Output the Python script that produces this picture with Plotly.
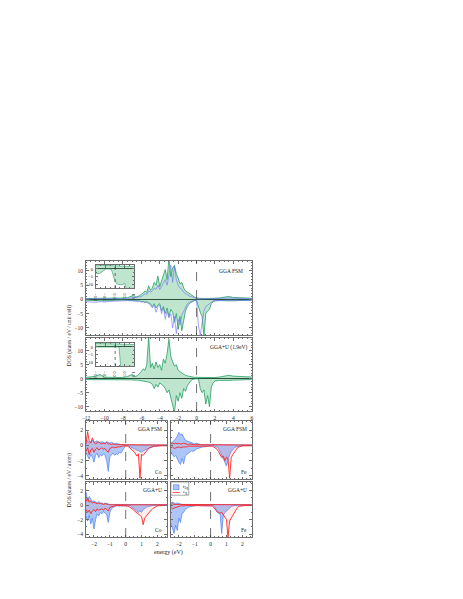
"""Spin-resolved DOS of the Co/Fe compound: total DOS panels plus t2g / eg projections."""
import plotly.graph_objects as go

_FONT = "Liberation Serif"
_GREEN = "#23a063"
_GREEN_FILL = "rgba(95,190,135,0.40)"
_LAVENDER = "rgba(115,115,255,0.80)"
_BLUE = "#4d7ff0"
_BLUE_FILL = "rgba(105,150,240,0.55)"
_RED = "#ff2424"
_RED_FILL = "rgba(255,110,110,0.12)"
_FRAME = "#6e6e6e"

# ---- total DOS, energy grid (eV) ----
MAIN_E = [-12.0, -11.5, -11.0, -10.5, -10.0, -9.5, -9.0, -8.5, -8.0, -7.5, -7.0,
          -6.8, -6.6, -6.4, -6.2, -6.0, -5.8, -5.6, -5.4, -5.2, -5.0,
          -4.8, -4.6, -4.4, -4.2, -4.0, -3.8, -3.6, -3.4, -3.2, -3.0,
          -2.8, -2.6, -2.4, -2.2, -2.0, -1.8, -1.6, -1.4, -1.2, -1.0,
          -0.8, -0.6, -0.4, -0.2, 0.0, 0.2, 0.4, 0.6, 0.8, 1.0,
          1.2, 1.4, 1.6, 1.8, 2.0,
          2.5, 3.0, 3.5, 4.0, 4.5, 5.0, 5.5, 6.0]

# GGA FSM
FSM_TOT_UP = [0.3, 0.3, 0.4, 0.3, 0.4, 0.3, 0.3, 0.4, 0.5, 0.6, 1.2,
              1.5, 0.8, 1.0, 1.3, 1.8, 2.2, 3.0, 2.5, 4.8, 3.2,
              4.0, 6.0, 5.0, 8.2, 4.5, 6.5, 9.0, 10.5, 7.0, 14.5,
              8.0, 11.0, 12.0, 9.0, 7.5, 5.5, 6.0, 4.0, 3.0, 2.5,
              2.0, 1.5, 1.2, 0.8, 0.5, 0.4, 0.3, 0.3, 0.3, 0.3,
              0.3, 0.3, 0.4, 0.3, 0.4,
              0.5, 0.8, 1.0, 0.7, 0.6, 0.5, 0.5, 0.4]
FSM_TOT_DN = [-0.3, -0.4, -0.5, -0.4, -0.5, -0.4, -0.3, -0.3, -0.2, -0.3, -0.4,
              -0.5, -0.4, -0.6, -0.5, -0.8, -0.7, -1.0, -0.8, -1.2, -1.5,
              -2.5, -1.5, -3.0, -2.0, -1.5, -4.0, -2.5, -5.0, -3.0, -6.0,
              -3.5, -4.5, -8.0, -5.0, -10.5, -6.0, -11.0, -7.5, -4.0, -2.5,
              -1.5, -1.0, -0.6, -0.4, -0.5, -3.0, -4.5, -6.0, -13.0, -5.0,
              -4.0, -3.5, -1.5, -0.8, -0.5,
              -0.4, -0.5, -0.6, -0.5, -0.4, -0.4, -0.3, -0.3]
FSM_ALT_UP = [0.2, 0.2, 0.3, 0.2, 0.2, 0.3, 0.2, 0.2, 0.3, 0.3, 0.5,
              0.6, 0.5, 0.6, 0.8, 1.0, 1.5, 2.0, 1.8, 3.0, 2.5,
              3.0, 4.0, 3.5, 5.0, 3.5, 4.5, 6.0, 7.0, 5.0, 8.0,
              12.0, 6.0, 11.5, 7.0, 5.0, 4.0, 3.5, 2.5, 2.0, 1.5,
              1.2, 1.0, 0.8, 0.5, 0.3, 0.2, 0.2, 0.2, 0.2, 0.2,
              0.2, 0.2, 0.2, 0.2, 0.2,
              0.3, 0.4, 0.5, 0.4, 0.3, 0.3, 0.3, 0.3]
FSM_ALT_DN = [-0.8, -0.9, -1.0, -0.8, -0.9, -0.7, -0.6, -0.5, -0.5, -0.4, -0.5,
              -0.6, -0.5, -0.7, -0.6, -0.9, -0.8, -1.2, -1.0, -1.5, -2.0,
              -3.0, -2.0, -4.5, -2.5, -2.0, -5.0, -3.0, -7.0, -4.0, -6.5,
              -5.0, -10.0, -6.0, -12.0, -7.0, -9.0, -5.5, -4.0, -2.5, -1.5,
              -1.0, -0.7, -0.5, -0.3, -0.3, -9.0, -12.5, -8.0, -4.0, -2.5,
              -2.0, -1.5, -0.8, -0.5, -0.4,
              -0.4, -0.5, -0.5, -0.4, -0.4, -0.3, -0.3, -0.3]

# GGA+U (1.9 eV)
U_TOT_UP = [0.5, 0.6, 0.8, 1.5, 0.6, 0.5, 0.4, 0.3, 0.4, 0.8, 1.5,
            1.0, 0.8, 1.2, 1.8, 2.5, 3.5, 3.0, 5.0, 15.0, 4.0,
            5.5, 3.5, 6.0, 4.0, 5.0, 3.0, 7.0, 5.5, 9.0, 14.0,
            8.0, 6.0, 4.5, 5.0, 3.0, 2.5, 2.0, 1.5, 1.2, 1.0,
            0.8, 0.7, 0.6, 0.5, 0.5, 0.4, 0.4, 0.3, 0.3, 0.3,
            0.3, 0.3, 0.3, 0.3, 0.4,
            0.6, 0.9, 1.2, 0.9, 0.8, 0.7, 0.6, 0.6]
U_TOT_DN = [-0.3, -0.3, -0.4, -0.3, -0.3, -0.2, -0.2, -0.2, -0.2, -0.3, -0.4,
            -0.5, -0.4, -0.5, -0.6, -0.7, -0.8, -0.9, -1.0, -1.2, -1.5,
            -2.0, -3.5, -2.0, -3.0, -1.5, -2.0, -2.5, -3.5, -5.0, -4.0,
            -7.0, -10.0, -12.0, -6.0, -8.0, -5.0, -7.0, -3.5, -4.5, -2.5,
            -1.5, -0.6, -0.2, -0.05, -0.02, -0.05, -3.5, -5.0, -4.0, -9.0,
            -6.0, -10.0, -3.0, -1.5, -0.8,
            -0.6, -0.7, -0.6, -0.5, -0.4, -0.4, -0.3, -0.3]

# ---- insets: spin-down near the Fermi level ----
INSET_E = [-1.0, -0.9, -0.8, -0.7, -0.6, -0.5, -0.4, -0.3, -0.2, -0.1, 0.0,
           0.1, 0.2, 0.3, 0.4, 0.5, 0.6, 0.7, 0.8, 0.9, 1.0]
INSET_FSM_UP = [2.4, 2.35, 2.3, 2.3, 2.2, 2.2, 2.1, 2.1, 2.0, 2.0, 1.9,
                1.9, 1.8, 1.8, 1.8, 1.7, 1.7, 1.6, 1.6, 1.5, 1.5]
INSET_FSM_DN = [-2.5, -3.0, -2.8, -2.0, -0.8, -0.2, -0.05, -0.05, -0.1, -4.0, -8.0,
                -9.5, -10.0, -10.0, -9.8, -9.0, -14.0, -14.0, -14.0, -14.0, -14.0]
INSET_U_UP = [2.2, 2.2, 2.1, 2.1, 2.1, 2.0, 2.0, 2.0, 1.9, 1.9, 1.9,
              1.8, 1.8, 1.8, 1.7, 1.7, 1.7, 1.6, 1.6, 1.6, 1.5]
INSET_U_DN = [-0.02, -0.02, -0.02, -0.02, -0.02, -0.02, -0.02, -0.02, -0.02, -0.02, -0.02,
              -0.02, -0.02, -14.0, -14.0, -14.0, -14.0, -14.0, -14.0, -14.0, -14.0]

# ---- projected DOS, energy grid (eV) ----
SUB_E = [-2.5, -2.4, -2.3, -2.2, -2.1, -2.0, -1.9, -1.8, -1.7, -1.6,
         -1.5, -1.4, -1.3, -1.2, -1.1, -1.0, -0.9, -0.8, -0.7, -0.6,
         -0.5, -0.4, -0.3, -0.2, -0.1, 0.0, 0.1, 0.2, 0.3, 0.4,
         0.5, 0.6, 0.7, 0.8, 0.9, 1.0, 1.1, 1.2, 1.3, 1.4,
         1.5, 1.6, 1.7, 1.8, 1.9, 2.0, 2.1, 2.2, 2.3, 2.4,
         2.5, 2.6]

CO_FSM_T2G_UP = [0.4, 0.6, 0.3, 0.5, 0.7, 0.4, 0.5, 0.6, 0.3, 0.4,
                 0.5, 0.4, 0.3, 0.5, 0.4, 0.3, 0.4, 0.3, 0.2, 0.3,
                 0.2, 0.2, 0.1, 0.1, 0.05, 0.05, 0.05, 0.05, 0.05, 0.1,
                 0.1, 0.1, 0.1, 0.1, 0.05, 0.05, 0.05, 0.05, 0.05, 0.05,
                 0.05, 0.05, 0.05, 0.05, 0.05, 0.05, 0.05, 0.05, 0.05, 0.05,
                 0.05, 0.05]
CO_FSM_T2G_DN = [-1.0, -1.4, -1.8, -1.2, -1.5, -2.2, -1.3, -1.0, -1.6, -1.2,
                 -1.4, -1.1, -1.3, -2.0, -3.4, -1.5, -1.2, -1.0, -1.3, -1.1,
                 -1.2, -0.9, -1.0, -0.6, -0.2, 0.0, 0.0, -0.1, -0.2, -0.3,
                 -0.4, -0.5, -0.6, -0.7, -0.8, -0.9, -0.7, -0.6, -0.5, -0.4,
                 -0.3, -0.2, -0.2, -0.1, -0.1, -0.05, 0.0, 0.0, 0.0, 0.0,
                 0.0, 0.0]
CO_FSM_EG_UP = [0.2, 1.8, 0.6, 0.3, 1.0, 0.4, 0.2, 0.3, 0.5, 0.3,
                0.2, 0.3, 0.2, 0.4, 0.2, 0.2, 0.1, 0.2, 0.1, 0.1,
                0.1, 0.1, 0.1, 0.05, 0.05, 0.05, 0.05, 0.05, 0.05, 0.05,
                0.05, 0.05, 0.05, 0.05, 0.05, 0.05, 0.05, 0.05, 0.05, 0.05,
                0.05, 0.05, 0.05, 0.05, 0.05, 0.05, 0.05, 0.05, 0.05, 0.05,
                0.05, 0.05]
CO_FSM_EG_DN = [-0.8, -0.3, -1.2, -0.6, -0.4, -0.9, -0.5, -0.3, -0.6, -0.4,
                -0.3, -0.5, -0.4, -0.7, -0.9, -0.4, -0.3, -0.2, -0.3, -0.2,
                -0.2, -0.2, -0.1, -0.1, -0.05, -0.05, -0.1, -0.2, -0.4, -0.6,
                -0.8, -1.0, -1.4, -1.1, -4.3, -1.2, -1.3, -1.0, -0.7, -0.5,
                -0.3, -0.2, -0.15, -0.1, -0.1, -0.05, -0.05, -0.05, -0.05, -0.05,
                -0.05, -0.05]

FE_FSM_T2G_UP = [0.3, 0.4, 0.6, 0.9, 1.2, 1.7, 1.4, 1.5, 1.0, 0.7,
                 0.6, 0.5, 0.4, 0.3, 0.3, 0.2, 0.3, 0.2, 0.2, 0.1,
                 0.1, 0.1, 0.1, 0.05, 0.05, 0.05, 0.05, 0.05, 0.05, 0.05,
                 0.05, 0.05, 0.05, 0.05, 0.05, 0.05, 0.05, 0.05, 0.05, 0.05,
                 0.05, 0.05, 0.05, 0.05, 0.05, 0.05, 0.05, 0.05, 0.05, 0.05,
                 0.05, 0.05]
FE_FSM_T2G_DN = [-0.8, -1.2, -1.5, -1.3, -1.8, -2.2, -2.5, -1.7, -2.4, -1.4,
                 -1.2, -1.0, -0.9, -0.7, -0.8, -0.6, -0.5, -0.4, -0.3, -0.3,
                 -0.2, -0.2, -0.1, -0.1, -0.05, 0.0, 0.0, -0.05, -0.1, -0.2,
                 -0.4, -0.8, -1.3, -1.8, -2.2, -2.7, -1.9, -1.2, -0.8, -0.5,
                 -0.3, -0.2, -0.1, -0.1, -0.05, 0.0, 0.0, 0.0, 0.0, 0.0,
                 0.0, 0.0]
FE_FSM_EG_UP = [0.2, 0.3, 0.2, 0.3, 0.2, 0.3, 0.2, 0.2, 0.3, 0.2,
                0.2, 0.1, 0.2, 0.1, 0.1, 0.1, 0.1, 0.1, 0.1, 0.1,
                0.05, 0.05, 0.05, 0.05, 0.05, 0.05, 0.05, 0.05, 0.05, 0.05,
                0.05, 0.05, 0.05, 0.05, 0.05, 0.05, 0.05, 0.05, 0.05, 0.05,
                0.05, 0.05, 0.05, 0.05, 0.05, 0.05, 0.05, 0.05, 0.05, 0.05,
                0.05, 0.05]
FE_FSM_EG_DN = [-0.3, -0.2, -0.4, -0.3, -0.3, -0.2, -0.3, -0.2, -0.2, -0.2,
                -0.2, -0.1, -0.1, -0.1, -0.1, -0.1, -0.1, -0.05, -0.05, -0.05,
                -0.05, -0.05, -0.05, -0.05, -0.05, -0.05, -0.1, -0.2, -0.3, -0.5,
                -0.8, -1.2, -1.6, -1.4, -2.0, -1.5, -1.8, -4.3, -1.6, -1.2,
                -0.9, -0.6, -0.3, -0.2, -0.1, -0.05, -0.05, -0.05, -0.05, -0.05,
                -0.05, -0.05]

CO_U_T2G_UP = [1.8, 0.6, 1.2, 0.8, 0.5, 0.6, 0.4, 0.3, 0.5, 0.3,
               0.3, 0.2, 0.3, 0.2, 0.2, 0.1, 0.1, 0.1, 0.1, 0.05,
               0.05, 0.05, 0.05, 0.05, 0.05, 0.05, 0.05, 0.05, 0.05, 0.05,
               0.05, 0.05, 0.05, 0.05, 0.05, 0.05, 0.05, 0.05, 0.05, 0.05,
               0.05, 0.05, 0.05, 0.05, 0.05, 0.05, 0.05, 0.05, 0.05, 0.05,
               0.05, 0.05]
CO_U_T2G_DN = [-1.5, -2.2, -1.4, -2.6, -1.8, -3.3, -2.0, -1.2, -1.5, -1.0,
               -1.2, -0.9, -1.1, -1.3, -2.4, -1.0, -0.5, -0.3, -0.2, -0.1,
               -0.1, -0.05, -0.05, 0.0, 0.0, 0.0, 0.0, -0.05, -0.1, -0.3,
               -0.5, -0.7, -0.9, -1.0, -0.8, -1.0, -0.6, -0.4, -0.3, -0.2,
               -0.1, -0.1, -0.05, 0.0, 0.0, 0.0, 0.0, 0.0, 0.0, 0.0,
               0.0, 0.0]
CO_U_EG_UP = [0.5, 1.0, 0.4, 0.6, 0.3, 0.4, 0.3, 0.2, 0.3, 0.2,
              0.2, 0.1, 0.2, 0.1, 0.1, 0.05, 0.05, 0.05, 0.05, 0.05,
              0.05, 0.05, 0.05, 0.05, 0.05, 0.05, 0.05, 0.05, 0.05, 0.05,
              0.05, 0.05, 0.05, 0.05, 0.05, 0.05, 0.05, 0.05, 0.05, 0.05,
              0.05, 0.05, 0.05, 0.05, 0.05, 0.05, 0.05, 0.05, 0.05, 0.05,
              0.05, 0.05]
CO_U_EG_DN = [-0.6, -1.0, -0.7, -1.2, -0.8, -0.6, -0.9, -0.5, -0.7, -0.6,
              -0.5, -0.7, -0.4, -0.6, -0.8, -0.3, -0.2, -0.1, -0.1, -0.05,
              -0.05, -0.05, -0.05, -0.05, -0.05, -0.05, -0.1, -0.2, -0.3, -0.5,
              -0.7, -0.9, -1.1, -1.3, -1.5, -1.6, -2.7, -1.8, -1.5, -1.2,
              -0.9, -0.7, -0.5, -0.3, -0.2, -0.1, -0.05, -0.05, -0.05, -0.05,
              -0.05, -0.05]

FE_U_T2G_UP = [0.3, 0.4, 0.3, 0.2, 0.3, 0.2, 0.2, 0.1, 0.1, 0.1,
               0.05, 0.05, 0.05, 0.05, 0.05, 0.05, 0.05, 0.05, 0.05, 0.05,
               0.05, 0.05, 0.05, 0.05, 0.05, 0.05, 0.05, 0.05, 0.05, 0.05,
               0.05, 0.05, 0.05, 0.05, 0.05, 0.05, 0.05, 0.05, 0.05, 0.05,
               0.05, 0.05, 0.05, 0.05, 0.05, 0.05, 0.05, 0.05, 0.05, 0.05,
               0.05, 0.05]
FE_U_T2G_DN = [-2.5, -3.2, -3.9, -2.8, -3.5, -1.8, -2.4, -1.2, -1.0, -0.6,
               -0.4, -0.3, -0.2, -0.2, -0.1, -0.1, -0.05, -0.05, -0.05, 0.0,
               0.0, 0.0, 0.0, 0.0, 0.0, 0.0, 0.0, -0.1, -0.4, -0.9,
               -1.1, -1.2, -3.9, -1.4, -1.0, -0.8, -0.5, -0.3, -0.2, -0.1,
               -0.05, 0.0, 0.0, 0.0, 0.0, 0.0, 0.0, 0.0, 0.0, 0.0,
               0.0, 0.0]
FE_U_EG_UP = [0.1, 0.2, 0.1, 0.1, 0.1, 0.1, 0.05, 0.05, 0.05, 0.05,
              0.05, 0.05, 0.05, 0.05, 0.05, 0.05, 0.05, 0.05, 0.05, 0.05,
              0.05, 0.05, 0.05, 0.05, 0.05, 0.05, 0.05, 0.05, 0.05, 0.05,
              0.05, 0.05, 0.05, 0.05, 0.05, 0.05, 0.05, 0.05, 0.05, 0.05,
              0.05, 0.05, 0.05, 0.05, 0.05, 0.05, 0.05, 0.05, 0.05, 0.05,
              0.05, 0.05]
FE_U_EG_DN = [-0.3, -0.5, -0.4, -0.3, -0.2, -0.2, -0.1, -0.1, -0.05, -0.05,
              -0.05, -0.05, -0.05, -0.05, -0.05, -0.05, -0.05, -0.05, -0.05, -0.05,
              -0.05, -0.05, -0.05, -0.05, -0.05, -0.05, -0.1, -0.3, -0.6, -0.9,
              -1.0, -1.1, -1.0, -1.3, -1.6, -2.0, -4.4, -2.2, -1.8, -1.4,
              -1.0, -0.6, -0.3, -0.15, -0.1, -0.05, -0.05, -0.05, -0.05, -0.05,
              -0.05, -0.05]

# ---- layout helpers (pixel boxes of a 463 x 599 canvas) ----
W, H = 463, 599


def xdom(x0, x1):
    return [x0 / W, x1 / W]


def ydom(y_top, y_bot):
    return [1 - y_bot / H, 1 - y_top / H]


fig = go.Figure()


def fill_line(x, y, xa, ya, line, fill, width=0.8):
    fig.add_trace(go.Scatter(
        x=x, y=y, xaxis=xa, yaxis=ya, mode="lines",
        line=dict(color=line, width=width), fill="tozeroy", fillcolor=fill,
        showlegend=False, hoverinfo="skip",
    ))


def plain_line(x, y, xa, ya, color, width=0.8):
    fig.add_trace(go.Scatter(
        x=x, y=y, xaxis=xa, yaxis=ya, mode="lines",
        line=dict(color=color, width=width), showlegend=False, hoverinfo="skip",
    ))


# total DOS panels
for ys in (FSM_TOT_UP, FSM_TOT_DN):
    fill_line(MAIN_E, ys, "x", "y", _GREEN, _GREEN_FILL)
for ys in (FSM_ALT_UP, FSM_ALT_DN):
    plain_line(MAIN_E, ys, "x", "y", _LAVENDER)
for ys in (U_TOT_UP, U_TOT_DN):
    fill_line(MAIN_E, ys, "x2", "y2", _GREEN, _GREEN_FILL)

# insets
for ys in (INSET_FSM_UP, INSET_FSM_DN):
    fill_line(INSET_E, ys, "x3", "y3", _GREEN, _GREEN_FILL, 0.6)
for ys in (INSET_U_UP, INSET_U_DN):
    fill_line(INSET_E, ys, "x4", "y4", _GREEN, _GREEN_FILL, 0.6)

# projected panels
panels = [
    ("x5", "y5", CO_FSM_T2G_UP, CO_FSM_T2G_DN, CO_FSM_EG_UP, CO_FSM_EG_DN),
    ("x6", "y6", FE_FSM_T2G_UP, FE_FSM_T2G_DN, FE_FSM_EG_UP, FE_FSM_EG_DN),
    ("x7", "y7", CO_U_T2G_UP, CO_U_T2G_DN, CO_U_EG_UP, CO_U_EG_DN),
    ("x8", "y8", FE_U_T2G_UP, FE_U_T2G_DN, FE_U_EG_UP, FE_U_EG_DN),
]
for xa, ya, t_up, t_dn, e_up, e_dn in panels:
    for ys in (t_up, t_dn):
        fill_line(SUB_E, ys, xa, ya, _BLUE, _BLUE_FILL, 0.7)
    for ys in (e_up, e_dn):
        fill_line(SUB_E, ys, xa, ya, _RED, _RED_FILL, 0.9)

tickfont = dict(family=_FONT, size=5.5, color="#222")
small = dict(family=_FONT, size=4.5, color="#222")


def ax(domain, rng, anchor, dtick, minor, labels=True, font=tickfont, zero=False):
    return dict(
        domain=domain, range=rng, anchor=anchor, dtick=dtick,
        showline=True, mirror="ticks", linecolor=_FRAME, linewidth=1,
        ticks="inside", ticklen=2.5, tickwidth=0.6, tickcolor=_FRAME,
        minor=dict(dtick=minor, ticks="inside", ticklen=1.3, tickwidth=0.5, tickcolor=_FRAME),
        showticklabels=labels, tickfont=font, showgrid=False,
        zeroline=zero, zerolinecolor="#111", zerolinewidth=1, ticklabelstandoff=1,
    )


MX = xdom(75, 243)
LX, RX = xdom(75, 157), xdom(161, 243)
TOP_Y, MID_Y = ydom(253, 327), ydom(330, 403)
R1_Y, R2_Y = ydom(413, 471), ydom(474, 529)
IN_X = xdom(85, 124)
SUB_X = [-2.5, 2.6]
SUB_Y = [-4.4, 3.2]

fig.update_layout(
    width=W, height=H, margin=dict(l=0, r=0, t=0, b=0),
    paper_bgcolor="white", plot_bgcolor="rgba(0,0,0,0)",
    font=dict(family=_FONT, color="#222"),
    xaxis=ax(MX, [-12, 6], "y", 2, 0.5, labels=False),
    yaxis=ax(TOP_Y, [-12.5, 13.5], "x", 5, 1, zero=True),
    xaxis2=ax(MX, [-12, 6], "y2", 2, 0.5),
    yaxis2=ax(MID_Y, [-11.5, 14.5], "x2", 5, 1, zero=True),
    xaxis3=dict(ax(IN_X, [-1, 1], "y3", 0.5, 0.25, font=small), tickformat=".1f"),
    yaxis3=ax(ydom(257, 280), [-12, 2.5], "x3", 5, 2.5, font=small, zero=True),
    xaxis4=dict(ax(IN_X, [-1, 1], "y4", 0.5, 0.25, font=small), tickformat=".1f"),
    yaxis4=ax(ydom(335, 358), [-12, 2.5], "x4", 5, 2.5, font=small, zero=True),
    xaxis5=ax(LX, SUB_X, "y5", 1, 0.25, labels=False),
    yaxis5=ax(R1_Y, SUB_Y, "x5", 2, 1),
    xaxis6=ax(RX, SUB_X, "y6", 1, 0.25, labels=False),
    yaxis6=ax(R1_Y, SUB_Y, "x6", 2, 1, labels=False),
    xaxis7=ax(LX, SUB_X, "y7", 1, 0.25),
    yaxis7=ax(R2_Y, SUB_Y, "x7", 2, 1),
    xaxis8=ax(RX, SUB_X, "y8", 1, 0.25),
    yaxis8=ax(R2_Y, SUB_Y, "x8", 2, 1, labels=False),
)

# Fermi level markers
for i in ["", "2", "3", "4", "5", "6", "7", "8"]:
    fig.add_shape(type="line", xref="x" + i, yref=f"y{i} domain", x0=0, x1=0, y0=0, y1=1,
                  line=dict(color="#333", width=0.7, dash="dash" if i not in ("3", "4") else "dot"))


# panel labels
def label(text, xref, yref, x, y, xanchor, yanchor, size=5.5):
    fig.add_annotation(text=text, xref=xref, yref=yref, x=x, y=y, xanchor=xanchor,
                       yanchor=yanchor, showarrow=False, font=dict(family=_FONT, size=size, color="#222"))


label("GGA FSM", "x domain", "y domain", 0.96, 0.93, "right", "top")
label("GGA+U (1.9eV)", "x2 domain", "y2 domain", 0.985, 0.95, "right", "top")
for n, calc in (("5", "GGA FSM"), ("6", "GGA FSM"), ("7", "GGA+U"), ("8", "GGA+U")):
    label(calc, f"x{n} domain", f"y{n} domain", 0.96, 0.95, "right", "top")
for n, el in (("5", "Co"), ("6", "Fe"), ("7", "Co"), ("8", "Fe")):
    label(el, f"x{n} domain", f"y{n} domain", 0.96, 0.04, "right", "bottom")

label("DOS (states / eV / unit cell)", "paper", "paper", 58 / W, 1 - 328 / H, "center", "middle")
fig.layout.annotations[-1].textangle = -90
label("DOS (states / eV / atom)", "paper", "paper", 58 / W, 1 - 472 / H, "center", "middle")
fig.layout.annotations[-1].textangle = -90
label("energy (eV)", "paper", "paper", 159 / W, 1 - 544 / H, "center", "middle", 6)

# compact key in the lower Fe panel
fig.add_shape(type="rect", xref="x8 domain", yref="y8 domain", x0=0.0, x1=0.22, y0=0.76, y1=1.0,
              line=dict(color=_FRAME, width=0.6), fillcolor="white")
fig.add_shape(type="rect", xref="x8 domain", yref="y8 domain", x0=0.03, x1=0.10, y0=0.86, y1=0.95,
              line=dict(color=_BLUE, width=0.6), fillcolor=_BLUE_FILL)
fig.add_shape(type="line", xref="x8 domain", yref="y8 domain", x0=0.02, x1=0.11, y0=0.81, y1=0.81,
              line=dict(color=_RED, width=0.8))
label("t<sub>2g</sub>", "x8 domain", "y8 domain", 0.12, 0.905, "left", "middle", 5)
label("e<sub>g</sub>", "x8 domain", "y8 domain", 0.12, 0.81, "left", "middle", 5)

fig.write_html("out.html")
